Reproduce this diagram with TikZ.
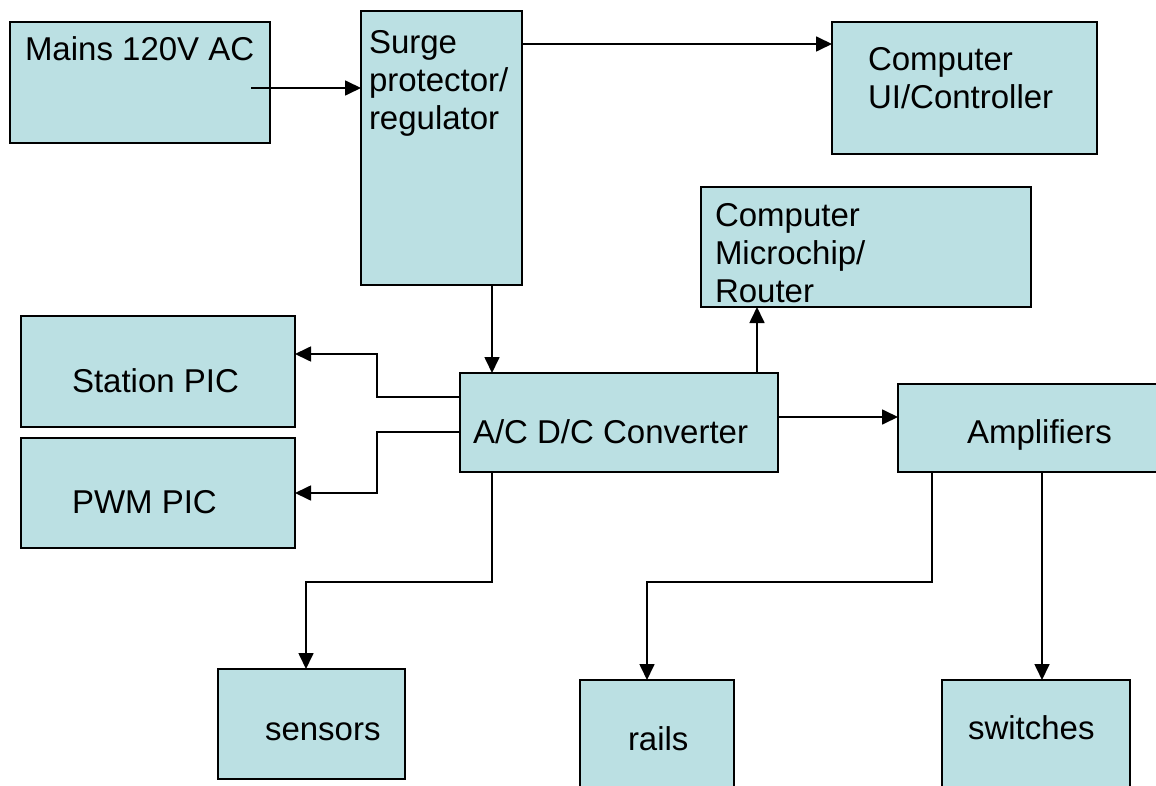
\documentclass[tikz,border=0pt]{standalone}
\usepackage{fontspec}
\setmainfont{Liberation Sans}
\usetikzlibrary{arrows.meta}
\definecolor{boxfill}{HTML}{BBE0E3}
\tikzset{
  blk/.style={draw=black, fill=boxfill, line width=1.9pt, inner sep=0pt, outer sep=0pt, anchor=north west},
  lbl/.style={inner sep=0pt, outer sep=0pt, anchor=base west, align=left,
              font=\fontsize{33}{38}\selectfont},
  arr/.style={line width=1.7pt, -{Triangle[length=16pt,width=15pt]}}
}
\begin{document}
\begin{tikzpicture}[x=1pt,y=-1pt]
\useasboundingbox (0,0) rectangle (1156,786);
\fill[white] (0,0) rectangle (1156,786);

% blocks
\node[blk, minimum width=260pt, minimum height=121pt] (mains) at (10,22) {};
\node[blk, minimum width=161pt, minimum height=274pt] (surge) at (361,11) {};
\node[blk, minimum width=265pt, minimum height=132pt] (ui) at (832,22) {};
\node[blk, minimum width=330pt, minimum height=120pt] (micro) at (701,187) {};
\node[blk, minimum width=274pt, minimum height=111pt] (station) at (21,316) {};
\node[blk, minimum width=274pt, minimum height=110pt] (pwm) at (21,438) {};
\node[blk, minimum width=318pt, minimum height=99pt] (conv) at (460,373) {};
\node[blk, minimum width=290pt, minimum height=88pt] (amp) at (898,384) {};
\node[blk, minimum width=187pt, minimum height=110pt] (sensors) at (218,669) {};
\node[blk, minimum width=154pt, minimum height=130pt] (rails) at (580,680) {};
\node[blk, minimum width=188pt, minimum height=130pt] (switches) at (942,680) {};

% labels (multi-line labels are placed by their last baseline)
\node[lbl] (tmains) at (25,61) {Mains 120V AC};
\node[lbl] (tsurge) at (369,130) {Surge\\protector/\\regulator};
\node[lbl] (tui) at (868,109) {Computer\\UI/Controller};
\node[lbl] (tmicro) at (715,302) {Computer\\Microchip/\\Router};
\node[lbl] (tstation) at (72,392) {Station PIC};
\node[lbl] (tpwm) at (72,513) {PWM PIC};
\node[lbl] (tconv) at (473,443) {A/C D/C Converter};
\node[lbl] (tamp) at (967,443) {Amplifiers};
\node[lbl] (tsensors) at (265,740) {sensors};
\node[lbl] (trails) at (628,750) {rails};
\node[lbl] (tswitches) at (968,739) {switches};

% routing guides
\coordinate (mainsout) at (251,88);
\coordinate (r44) at (0,44);
\coordinate (r354) at (0,354);
\coordinate (r397) at (0,397);
\coordinate (r417) at (0,417);
\coordinate (r432) at (0,432);
\coordinate (r493) at (0,493);
\coordinate (r582) at (0,582);
\coordinate (c306) at (306,0);
\coordinate (c377) at (377,0);
\coordinate (c492) at (492,0);
\coordinate (c647) at (647,0);
\coordinate (c757) at (757,0);
\coordinate (c932) at (932,0);
\coordinate (c1042) at (1042,0);

% connectors
\draw[arr] (mainsout) -- (mainsout -| surge.west);
\draw[arr] (surge.east |- r44) -- (ui.west |- r44);
\draw[arr] (surge.south -| c492) -- (conv.north -| c492);
\draw[arr] (conv.north -| c757) -- (micro.south -| c757);
\draw[arr] (conv.west |- r397) -- (c377 |- r397) -- (c377 |- r354) -- (station.east |- r354);
\draw[arr] (conv.west |- r432) -- (c377 |- r432) -- (c377 |- r493) -- (pwm.east |- r493);
\draw[arr] (conv.east |- r417) -- (amp.west |- r417);
\draw[arr] (conv.south -| c492) -- (c492 |- r582) -- (c306 |- r582) -- (sensors.north -| c306);
\draw[arr] (amp.south -| c932) -- (c932 |- r582) -- (c647 |- r582) -- (rails.north -| c647);
\draw[arr] (amp.south -| c1042) -- (switches.north -| c1042);
\end{tikzpicture}
\end{document}
